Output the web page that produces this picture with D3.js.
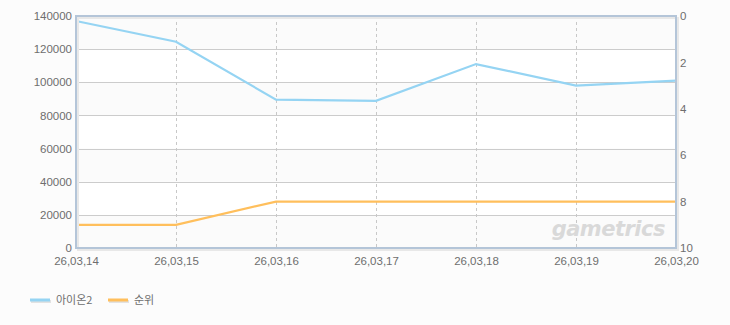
<!DOCTYPE html>
<html>
<head>
<meta charset="utf-8">
<script src="https://cdn.jsdelivr.net/npm/d3@7"></script>
<style>
  body { margin: 0; background: #fcfcfc; }
  svg { display: block; font-family: "Liberation Sans", "Noto Sans CJK KR", sans-serif; }
</style>
</head>
<body>
<div id="chart"></div>
<script>
// 데이터
const dates = ["26,03,14", "26,03,15", "26,03,16", "26,03,17", "26,03,18", "26,03,19", "26,03,20"];
const players = [137000, 124500, 89500, 88800, 111000, 98000, 101000];
const ranks = [9, 9, 8, 8, 8, 8, 8];
const leftTicks = [0, 20000, 40000, 60000, 80000, 100000, 120000, 140000];
const rightTicks = [0, 2, 4, 6, 8, 10];
const seriesNames = ["아이온2", "순위"];
const seriesColors = ["#95d4f3", "#ffbf5c"];

const width = 730, height = 325;
const margin = {top: 16, right: 54, bottom: 77, left: 76};
const plotW = width - margin.left - margin.right;
const plotH = height - margin.top - margin.bottom;

const svg = d3.select("#chart").append("svg")
  .attr("width", width)
  .attr("height", height);

const g = svg.append("g")
  .attr("transform", `translate(${margin.left},${margin.top})`);

const x = d3.scalePoint().domain(dates).range([0, plotW]);
const y = d3.scaleLinear().domain([0, 140000]).range([plotH, 0]);
const yRank = d3.scaleLinear().domain([0, 10]).range([0, plotH]);

// 배경 띠
g.selectAll("rect.band")
  .data(d3.pairs(leftTicks))
  .enter().append("rect")
  .attr("x", 0)
  .attr("y", d => y(d[1]))
  .attr("width", plotW)
  .attr("height", d => y(d[0]) - y(d[1]))
  .attr("fill", (d, i) => i % 2 === 0 ? "#fbfbfb" : "#ffffff");

// 가로 그리드
g.selectAll("line.hgrid")
  .data(leftTicks)
  .enter().append("line")
  .attr("x1", 0).attr("x2", plotW)
  .attr("y1", d => Math.round(y(d)) + 0.5).attr("y2", d => Math.round(y(d)) + 0.5)
  .attr("stroke", "#cccccc")
  .attr("stroke-width", 1);

// 세로 점선 그리드
g.selectAll("line.vgrid")
  .data(dates)
  .enter().append("line")
  .attr("x1", d => Math.round(x(d)) + 0.5).attr("x2", d => Math.round(x(d)) + 0.5)
  .attr("y1", 0).attr("y2", plotH)
  .attr("stroke", "#c8c8c8")
  .attr("stroke-dasharray", "3,3");

// 워터마크
g.append("text")
  .attr("x", plotW - 11)
  .attr("y", plotH - 12)
  .attr("text-anchor", "end")
  .attr("font-size", 21)
  .attr("font-weight", "bold")
  .attr("font-style", "italic")
  .attr("font-family", "DejaVu Sans, sans-serif")
  .attr("fill", "#d9d9d9")
  .attr("letter-spacing", -0.5)
  .text("gametrics");

// 선
const lineMain = d3.line().x((d, i) => x(dates[i])).y(d => y(d));
const lineRank = d3.line().x((d, i) => x(dates[i])).y(d => yRank(d));

g.append("path")
  .datum(ranks)
  .attr("d", lineRank)
  .attr("fill", "none")
  .attr("stroke", seriesColors[1])
  .attr("stroke-width", 2.2);

g.append("path")
  .datum(players)
  .attr("d", lineMain)
  .attr("fill", "none")
  .attr("stroke", seriesColors[0])
  .attr("stroke-width", 2.2);

// 테두리 그림자 + 테두리
g.append("rect")
  .attr("x", 2).attr("y", 2)
  .attr("width", plotW).attr("height", plotH)
  .attr("fill", "none")
  .attr("stroke", "#e8e8e8")
  .attr("stroke-width", 2);
g.append("rect")
  .attr("x", 0).attr("y", 0)
  .attr("width", plotW).attr("height", plotH)
  .attr("fill", "none")
  .attr("stroke", "#b4c5d8")
  .attr("stroke-width", 2);

// 축
const axisLeft = g.append("g")
  .call(d3.axisLeft(y).tickValues(leftTicks).tickSize(0).tickPadding(4).tickFormat(d3.format("d")));
const axisRight = g.append("g")
  .attr("transform", `translate(${plotW},0)`)
  .call(d3.axisRight(yRank).tickValues(rightTicks).tickSize(0).tickPadding(4));
const axisBottom = g.append("g")
  .attr("transform", `translate(0,${plotH})`)
  .call(d3.axisBottom(x).tickSize(0).tickPadding(9));

[axisLeft, axisRight, axisBottom].forEach(a => {
  a.select(".domain").remove();
  a.selectAll("text")
    .attr("fill", "#6e6e6e")
    .attr("font-size", 11.5)
    .attr("font-family", "Liberation Sans, sans-serif");
});

// 범례
const legend = svg.append("g").attr("transform", "translate(30,300)");
const items = legend.selectAll("g")
  .data(seriesNames)
  .enter().append("g")
  .attr("transform", (d, i) => `translate(${i * 78},0)`);
items.append("line")
  .attr("x1", 1).attr("x2", 21).attr("y1", 1.5).attr("y2", 1.5)
  .attr("stroke", "#e2e2e2").attr("stroke-width", 3);
items.append("line")
  .attr("x1", 0).attr("x2", 20).attr("y1", 0).attr("y2", 0)
  .attr("stroke", (d, i) => seriesColors[i]).attr("stroke-width", 3);
items.append("text")
  .attr("x", 26).attr("y", 4)
  .attr("font-size", 11)
  .attr("fill", "#6e6e6e")
  .attr("font-family", "Noto Sans CJK KR, sans-serif")
  .text(d => d);
</script>
</body>
</html>
